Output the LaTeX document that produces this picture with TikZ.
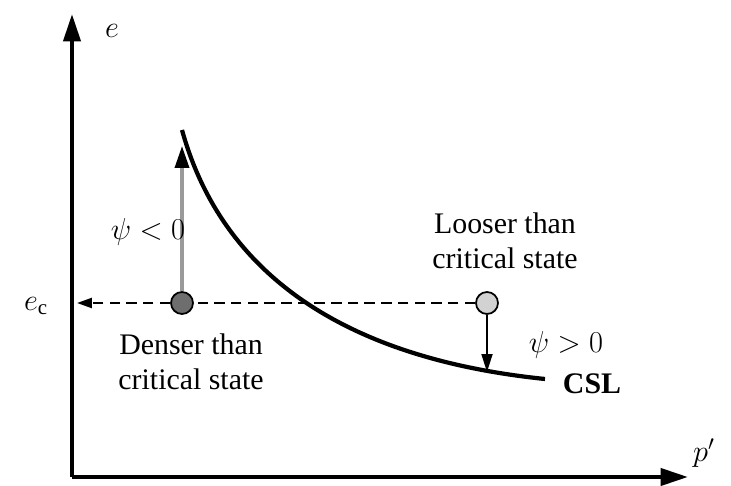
\documentclass[tikz,border=0pt]{standalone}
\usepackage{fontspec}
\setmainfont{Liberation Serif}
\usepackage{amsmath}
\definecolor{mDenseFill}{HTML}{6E6E6E}
\definecolor{mLooseFill}{HTML}{D2D2D2}
\definecolor{mGrayStem}{HTML}{9A9A9A}
\usetikzlibrary{arrows.meta}

\begin{document}
\begin{tikzpicture}[x=0.02cm, y=-0.02cm, font=\fontsize{17}{20}\selectfont,
  axis/.style={line width=2.4pt, -{Triangle[length=0.55cm, width=0.34cm]}},
  csl/.style={line width=2.4pt},
  pt/.style={circle, draw=black, line width=1pt, minimum size=0.44cm, inner sep=0pt},
  dashline/.style={dashed, dash pattern=on 6pt off 3.5pt, line width=1.3pt}]
\useasboundingbox (0,0) rectangle (731,486);
\coordinate (o) at (72,477);
\coordinate (ytop) at (72,14);
\coordinate (xend) at (688,477);
\draw[axis] (o) -- (ytop);
\draw[axis] (o) -- (xend);
\node (elab) at (112,31) {$e$};
\node (plab) at (704,453) {$p'$};
\node (eclab) at (36,306) {$e_\mathrm{c}$};
% critical state line
\coordinate (cs) at (182,130);
\coordinate (ce) at (545,379);
\draw[csl] (cs) .. controls (225,285) and (360,360) .. (ce);
\node[font=\fontsize{17}{20}\selectfont\bfseries] (csllab) at (592,384) {CSL};
% states
\node[pt, fill=mDenseFill] (dense) at (182,303) {};
\node[pt, fill=mLooseFill] (loose) at (487,303) {};
\coordinate (ec) at (77,303);
\coordinate (up) at (182,146);
\coordinate (hit) at (487,372);
\draw[dashline] (loose.west) -- (dense.east);
\draw[dashline, -{Triangle[length=0.3cm, width=0.2cm]}] (dense.west) -- (ec);
\draw[mGrayStem, line width=2pt, -{Triangle[length=0.44cm, width=0.28cm, color=black]}] (dense.north) -- (up);
\draw[line width=1pt, -{Triangle[length=0.36cm, width=0.22cm]}] (loose.south) -- (hit);
\node (neglab) at (148,232) {$\psi < 0$};
\node (poslab) at (566,345) {$\psi > 0$};
\node[align=center] (looselab) at (505,241) {Looser than\\ critical state};
\node[align=center] (denselab) at (191,362) {Denser than\\ critical state};
\end{tikzpicture}
\end{document}
